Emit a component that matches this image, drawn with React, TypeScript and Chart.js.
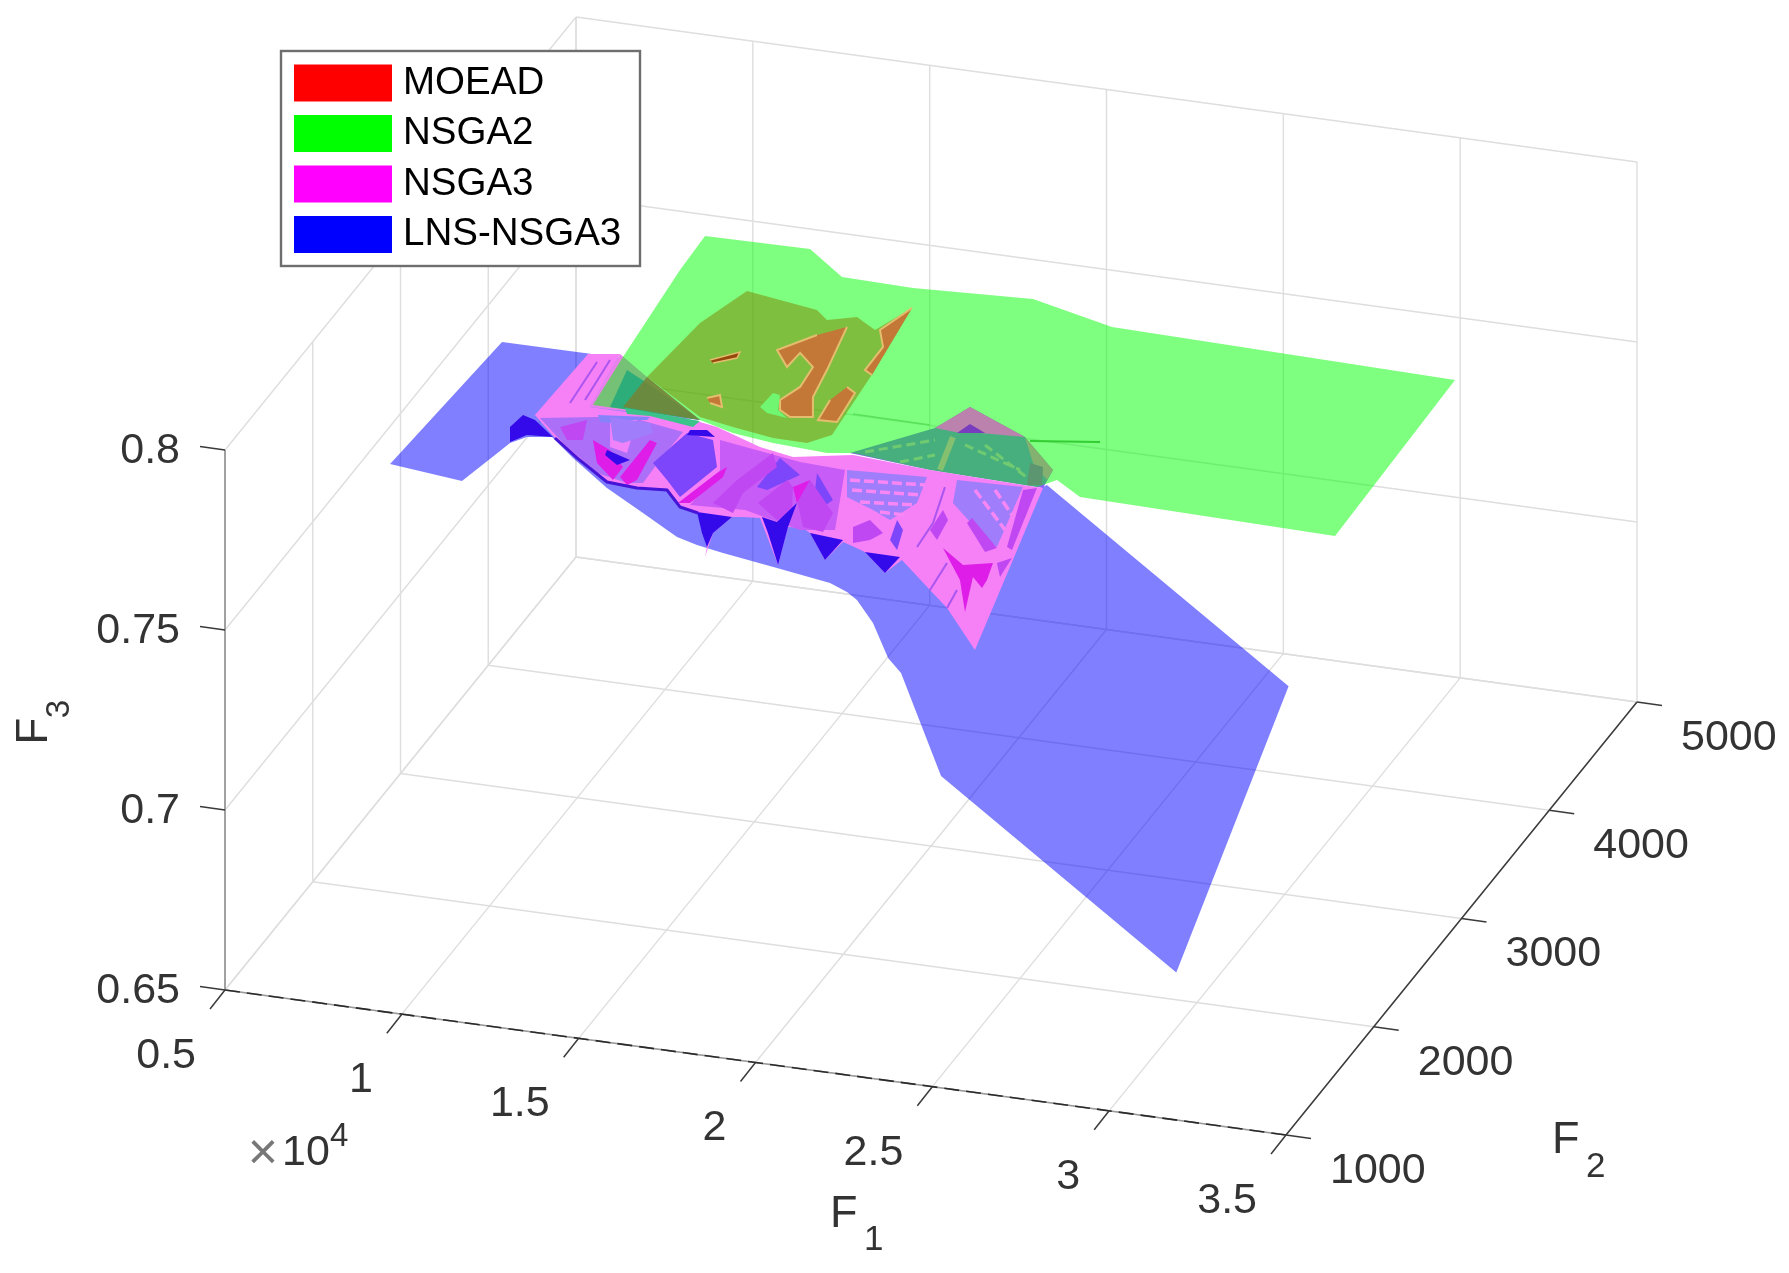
import React, { useEffect, useRef } from "react";
import { Chart, registerables } from "chart.js";

Chart.register(...registerables);

// ---- axes -----------------------------------------------------------------
const f1Ticks = [5000, 10000, 15000, 20000, 25000, 30000, 35000];
const f1Labels = ["0.5", "1", "1.5", "2", "2.5", "3", "3.5"];
const f2Ticks = [1000, 2000, 3000, 4000, 5000];
const f2Labels = ["1000", "2000", "3000", "4000", "5000"];
const f3Ticks = [0.65, 0.7, 0.75, 0.8];
const f3Labels = ["0.65", "0.7", "0.75", "0.8"];
const seriesNames = ["MOEAD", "NSGA2", "NSGA3", "LNS-NSGA3"];

// ---- NSGA2 surface, read at F3 = 0.8 ---------------------------------------
const nsga2Level = 0.8;
const nsga2F1 = [12802, 15744, 17136, 19170, 22452, 25041, 34866, 35030, 27734, 26798, 26432, 23359, 21048, 20386, 18805, 17580, 16472, 13438, 13212, 12868];
const nsga2F2 = [3326, 3337, 3140, 3129, 3174, 3031, 2980, 1547, 1581, 1697, 1615, 1635, 1689, 1659, 1681, 1718, 1789, 1792, 2225, 3014];

// ---- MOEAD surface, read at F3 = 0.8 ---------------------------------------
const moeadLevel = 0.8;
const moeadF1 = [15007, 17180, 17642, 18344, 19070, 19558, 19906, 20141, 19671, 18701, 17456, 16410, 14236, 14470];
const moeadF2 = [2915, 2837, 2765, 2824, 2737, 2962, 2377, 1815, 1719, 1723, 1768, 1814, 2087, 2596];
const moeadAbove: number[][][] = [
  [[18295, 2730], [18558, 2464], [18673, 2349], [18874, 2109], [19287, 1942], [18701, 1916], [18303, 1964], [18096, 2047], [18337, 2178], [18255, 2358], [17636, 2461], [17593, 2329], [16988, 2459], [17696, 2629]],
  [[19558, 2962], [19197, 2742], [19624, 2605], [19640, 2392], [19921, 2359]],
  [[19533, 2231], [19861, 2190], [20000, 1929], [19476, 1923], [19368, 2104]],
  [[16196, 1980], [16465, 2020], [16764, 1923], [16376, 1942]],
];
const moeadCore: number[][] = [[15489, 2299], [16087, 2400], [16135, 2347], [15627, 2279]];
const moeadHole: number[][] = [[17731, 1966], [17773, 2097], [17993, 2088], [18252, 1962], [18646, 1905], [18034, 1924]];

// ---- LNS-NSGA3 surface ------------------------------------------------------
const lnsF1 = [9489, 9823, 13208, 13707, 15688, 16734, 18221, 20491, 23167, 23523, 23675, 31600, 31600, 24753, 23467, 23198, 22836, 22326, 22277, 21659, 20000, 18317, 17490, 16816, 15826, 14765, 14023, 13056, 12419, 12111, 11976, 11673];
const lnsF2 = [1072, 2213, 2216, 2904, 2789, 2744, 2828, 2791, 2772, 2788, 2840, 2400, 1120, 1199, 1261, 1222, 1196, 1219, 1125, 1181, 1244, 1308, 1345, 1389, 1400, 1417, 1329, 1480, 1451, 1382, 1265, 1011];
const lnsF3 = [0.8, 0.8, 0.8, 0.76, 0.76, 0.76, 0.76, 0.76, 0.76, 0.76, 0.76, 0.728, 0.687, 0.73, 0.755, 0.76, 0.77, 0.775, 0.78, 0.78, 0.78, 0.78, 0.78, 0.78, 0.785, 0.79, 0.8, 0.8, 0.8, 0.8, 0.8, 0.8];

// ---- NSGA3 surface, read at F3 = 0.77 ---------------------------------------
const nsga3Level = 0.77;
const nsga3F1 = [9940, 10031, 10846, 11175, 14285, 14821, 16328, 17374, 18861, 21130, 23807, 24378, 25168, 25989, 24411, 23606, 22274, 22110, 21167, 20641, 20401, 20314, 19375, 19094, 18691, 19221, 17793, 17340, 17060, 16906, 17197, 17042, 16111, 15530, 14848, 14043, 13156, 11897, 10924];
const nsga3F2 = [2541, 3110, 3146, 2671, 2671, 2648, 2531, 2486, 2571, 2533, 2514, 2512, 1817, 1087, 1405, 1535, 1752, 1625, 1777, 1818, 1835, 1665, 1873, 1906, 1898, 1571, 1941, 1930, 1917, 1763, 1554, 1639, 1912, 1941, 2068, 2050, 2066, 2232, 2373];
const nsga3WedgeLeft: number[][] = [[10846, 3146], [12007, 2985], [14244, 2688], [11175, 2671]];
const nsga3WedgeLeftDeep: number[][] = [[11354, 3020], [11684, 2694], [14244, 2688], [12248, 2922]];
const nsga3WedgeRight: number[][] = [[18742, 2583], [20391, 2888], [20848, 3103], [22867, 2915], [24261, 2673], [24378, 2512], [21130, 2533]];
const nsga3WedgeStripes: number[][][] = [
  [[19104, 2609], [20638, 2788]],
  [[20201, 2565], [20948, 2664]],
  [[21505, 2781], [23421, 2636]],
  [[22014, 2804], [23882, 2564]],
];
const overlapWedge: number[][] = [[12007, 2985], [14244, 2688], [12015, 2708]];
const overlapBand: number[][] = [[12087, 2702], [14264, 2679], [14210, 2621], [12888, 2664], [12262, 2655]];
const nsga3RimLeft: number[][] = [[11544, 2613], [12909, 2656], [12895, 2628], [12284, 2600], [12014, 2561], [11740, 2557]];
const nsga3BaseLeft: number[][] = [[10129, 2522], [11560, 2596], [12717, 2620], [14058, 2569], [14051, 2309], [14092, 2099], [13685, 2081], [12715, 2130], [11231, 2340]];
const nsga3BaseMid: number[][] = [[15165, 2544], [17656, 2452], [18966, 2437], [19950, 1926], [19059, 1887], [17247, 1990], [15743, 1970], [15784, 2295]];
const nsga3Pale: number[][] = [[11953, 2586], [12640, 2616], [13066, 2330], [12510, 2361]];
const nsga3Ridge: number[][] = [[20391, 2888], [20848, 3103], [22867, 2915], [21640, 2898], [21130, 2875]];
const nsga3RidgeCore: number[][] = [[21054, 2872], [21199, 2961], [21767, 2904]];
const nsga3RidgeSide: number[][] = [[22867, 2915], [24261, 2673], [24315, 2583], [23608, 2708]];
const nsga3RidgeBlock: number[][] = [[23531, 2705], [23944, 2687], [24291, 2536], [23909, 2519]];
const nsga3RidgeSeam: number[][] = [[21034, 2833], [21384, 2545]];
const nsga3Light: number[][][] = [
  [[11891, 2611], [13032, 2606], [13316, 2526], [12758, 2408], [12442, 2422]],
  [[19017, 2439], [21198, 2472], [21480, 2244], [21144, 2072], [20505, 2136], [19574, 2214]],
  [[22024, 2481], [23848, 2497], [24424, 1968], [23703, 2066], [22396, 2284]],
];
const nsga3Violet: number[][][] = [
  [[13935, 2276], [14181, 2565], [14987, 2536], [15646, 2316], [15323, 2024], [14642, 2151]],
  [[17077, 2195], [17065, 2463], [17924, 2344], [17394, 2182]],
  [[18315, 2380], [19280, 2173], [19170, 2104], [18615, 2237]],
  [[21557, 1906], [21322, 2080], [21680, 2004], [21941, 1831]],
];
const nsga3Purple: number[][][] = [
  [[16287, 2012], [16424, 2231], [16782, 2496], [17173, 2384], [16845, 2130], [17002, 1951]],
  [[17433, 2063], [17697, 2288], [17993, 2236], [18504, 2018], [18267, 1943]],
  [[18363, 2132], [18282, 2314], [19548, 2065], [19686, 1896], [19073, 1915]],
  [[10824, 2470], [11368, 2559], [11678, 2388], [11271, 2370]],
  [[20346, 1972], [20634, 2049], [21233, 1956], [21047, 1883], [20676, 1839]],
  [[22287, 2215], [22368, 2034], [22753, 1959], [22620, 2138]],
  [[23910, 2473], [24225, 2505], [24868, 1961], [24679, 1980]],
  [[23190, 2182], [24445, 1960], [24222, 1914], [23166, 2134]],
  [[24754, 1835], [25033, 1894], [25120, 1723]],
];
const nsga3Vivid: number[][][] = [
  [[15396, 1972], [15770, 2266], [15900, 2328], [16006, 2240], [15702, 1986]],
  [[17993, 2236], [18282, 2314], [18425, 2107]],
  [[13384, 2123], [13383, 2464], [13624, 2447], [13878, 2117], [13727, 2064]],
  [[11932, 2399], [12572, 2336], [13253, 2209], [13268, 2090], [12509, 2213]],
  [[23071, 1899], [23930, 1781], [24652, 1831], [24851, 1683], [24888, 1611], [24432, 1692], [24951, 1392], [24163, 1652]],
];
const nsga3Dark: number[][][] = [
  [[16066, 1919], [17060, 1917], [16906, 1763], [17042, 1639], [16626, 1750]],
  [[17823, 1951], [18308, 1926], [18425, 2107], [18691, 1898], [19221, 1571], [18306, 1825]],
  [[19375, 1873], [20360, 1852], [20314, 1665]],
  [[21167, 1777], [22161, 1775], [22110, 1625]],
  [[12496, 2332], [13287, 2275], [13059, 2219], [12548, 2289]],
  [[9552, 2413], [9635, 2528], [10044, 2500], [10852, 2379], [10149, 2366], [9861, 2289]],
  [[14196, 2594], [14628, 2613], [14976, 2563], [14222, 2548]],
];
const nsga3Seams: number[][][] = [
  [[21863, 2408], [22300, 2096], [22388, 1878]],
  [[23606, 1535], [23482, 1779]],
  [[24411, 1405], [24293, 1566]],
  [[10584, 2681], [10425, 3053]],
  [[10904, 2723], [10714, 3085]],
];
const nsga3Edge: number[][] = [[10924, 2373], [11897, 2232], [13156, 2066], [14043, 2050], [14848, 2068], [15530, 1941], [16111, 1912]];
const nsga3Stripes: number[][][] = [
  [[19300, 2359], [21313, 2403]],
  [[19557, 2279], [21391, 2314]],
  [[20008, 2188], [21470, 2225]],
  [[20724, 2127], [21422, 2131]],
  [[22688, 2418], [24277, 2120]],
  [[23197, 2441], [24146, 2252]],
];
const crossing: number[][][] = [
  [[20243, 2013], [22430, 2009]],
  [[25305, 1990], [27108, 2062]],
];

// ---- view of the 3-D box ----------------------------------------------------
const WIDTH = 1789;
const HEIGHT = 1273;
const project = (f1: number, f2: number, f3: number) => {
  const a = (f1 - 5000) / 30000;
  const b = (f2 - 1000) / 4000;
  const c = (f3 - 0.65) / 0.15;
  return { x: 225 + a * 1061 + b * 351, y: 990 + a * 145 - b * 433 - c * 540 };
};

const RED = "rgb(255,0,0)";
const GREEN = "rgb(0,255,0)";
const MAGENTA = "rgb(255,0,255)";
const BLUE = "rgb(0,0,255)";
const FONT = "Liberation Sans";
const TEXT = "#333333";

const shape = (pts: { x: number; y: number }[], fill: string, edge?: string, edgeWidth = 0) => ({
  data: pts,
  showLine: true,
  fill: "shape",
  backgroundColor: fill,
  borderColor: edge ?? fill,
  borderWidth: edgeWidth,
  pointRadius: 0,
  tension: 0,
});
const stroke = (pts: { x: number; y: number }[], color: string, width: number, dash: number[] = []) => ({
  data: pts,
  showLine: true,
  fill: false,
  borderColor: color,
  backgroundColor: color,
  borderWidth: width,
  borderDash: dash,
  pointRadius: 0,
  tension: 0,
});
const at = (level: number, pairs: number[][]) => pairs.map(([a, b]) => project(a, b, level));
const zip = (a: number[], b: number[], level: number) => a.map((v, i) => project(v, b[i], level));

const buildDatasets = () => {
  const lv = nsga3Level;
  const mv = moeadLevel;
  const list: any[] = [
    shape(zip(moeadF1, moeadF2, mv), "rgba(255,0,0,0.5)"),
    shape(lnsF1.map((v, i) => project(v, lnsF2[i], lnsF3[i])), "rgba(0,0,255,0.5)"),
    shape(at(lv, nsga3WedgeLeft), "rgb(235,130,235)"),
    shape(at(lv, nsga3WedgeLeftDeep), "rgb(90,90,245)"),
    shape(at(lv, nsga3WedgeRight), "rgb(140,95,250)"),
    ...nsga3WedgeStripes.map((s) => stroke(at(lv, s), "rgb(225,150,225)", 3, [9, 5])),
    shape(zip(nsga2F1, nsga2F2, nsga2Level), "rgba(0,255,0,0.5)"),
    shape(at(lv, overlapWedge), "rgba(118,130,50,0.82)"),
    shape(zip(nsga3F1, nsga3F2, lv), "rgb(246,128,246)"),
    shape(at(lv, nsga3BaseLeft), "rgb(172,112,248)"),
    shape(at(lv, nsga3BaseMid), "rgb(200,92,246)"),
    shape(at(lv, nsga3Pale), "rgb(240,130,250)"),
    shape(at(lv, nsga3RimLeft), "rgb(135,130,250)"),
    shape(at(lv, overlapBand), "rgb(60,195,140)"),
    ...nsga3Light.map((p) => shape(at(lv, p), "rgb(160,125,250)")),
    ...nsga3Stripes.map((s) => stroke(at(lv, s), "rgb(248,135,245)", 3.5, [10, 4])),
    ...nsga3Violet.map((p) => shape(at(lv, p), "rgb(125,70,250)")),
    ...nsga3Purple.map((p) => shape(at(lv, p), "rgb(192,72,242)")),
    ...nsga3Vivid.map((p) => shape(at(lv, p), "rgb(222,30,232)")),
    ...nsga3Dark.map((p) => shape(at(lv, p), "rgb(52,10,235)")),
    ...nsga3Seams.map((s) => stroke(at(lv, s), "rgb(170,85,240)", 2)),
    stroke(at(lv, nsga3Edge), "rgb(70,20,215)", 3),
    ...moeadAbove.map((p) => shape(at(mv, p), "rgb(196,120,55)", "rgb(226,190,110)", 2)),
    shape(at(mv, moeadCore), "rgb(150,72,12)", "rgb(226,190,110)", 1.5),
    shape(at(mv, moeadHole), "rgb(112,246,112)"),
    shape(at(lv, nsga3Ridge), "rgb(186,130,172)"),
    shape(at(lv, nsga3RidgeCore), "rgb(120,60,190)"),
    shape(at(lv, nsga3RidgeSide), "rgb(132,176,112)"),
    shape(at(lv, nsga3RidgeBlock), "rgb(92,150,112)"),
    stroke(at(lv, nsga3RidgeSeam), "rgb(132,192,112)", 6),
    stroke(at(nsga2Level, crossing[0]), "rgb(90,225,90)", 1.5),
    stroke(at(nsga2Level, crossing[1]), "rgb(50,205,50)", 2),
  ];
  return list.map((d, i) => ({ ...d, order: -i }));
};

const axesPlugin = {
  id: "axes3d",
  beforeDraw(chart: any) {
    const { ctx, scales } = chart;
    const px = (p: { x: number; y: number }) => ({
      x: scales.x.getPixelForValue(p.x),
      y: scales.y.getPixelForValue(p.y),
    });
    const seg = (a: number[], b: number[], color: string, width: number, dash: number[] = []) => {
      const p = px(project(a[0], a[1], a[2]));
      const q = px(project(b[0], b[1], b[2]));
      ctx.save();
      ctx.strokeStyle = color;
      ctx.lineWidth = width;
      ctx.setLineDash(dash);
      ctx.beginPath();
      ctx.moveTo(p.x, p.y);
      ctx.lineTo(q.x, q.y);
      ctx.stroke();
      ctx.restore();
    };
    const GRID = "#dedede";
    const f3Low = f3Ticks[0];
    const f3High = f3Ticks[f3Ticks.length - 1];
    const f1Low = f1Ticks[0];
    const f1High = f1Ticks[f1Ticks.length - 1];
    const f2Low = f2Ticks[0];
    const f2High = f2Ticks[f2Ticks.length - 1];

    f1Ticks.forEach((v) => {
      seg([v, f2Low, f3Low], [v, f2High, f3Low], GRID, 1.4);
      seg([v, f2High, f3Low], [v, f2High, f3High], GRID, 1.4);
    });
    f2Ticks.forEach((v) => {
      seg([f1Low, v, f3Low], [f1High, v, f3Low], GRID, 1.4);
      seg([f1Low, v, f3Low], [f1Low, v, f3High], GRID, 1.4);
    });
    f3Ticks.forEach((v) => {
      seg([f1Low, f2Low, v], [f1Low, f2High, v], GRID, 1.4);
      seg([f1Low, f2High, v], [f1High, f2High, v], GRID, 1.4);
    });

    // axis rulers
    seg([f1Low, f2Low, f3Low], [f1Low, f2Low, f3High], "#8a8a8a", 1.5);
    seg([f1Low, f2Low, f3Low], [f1High, f2Low, f3Low], "#9a9a9a", 1.5);
    seg([f1Low, f2Low, f3Low], [f1High, f2Low, f3Low], "#2a2a2a", 1.6, [15, 7]);
    seg([f1High, f2Low, f3Low], [f1High, f2High, f3Low], "#3a3a3a", 1.5);

    const mark = (p0: { x: number; y: number }, dx: number, dy: number) => {
      const p = px(p0);
      ctx.save();
      ctx.strokeStyle = "#3a3a3a";
      ctx.lineWidth = 1.5;
      ctx.beginPath();
      ctx.moveTo(p.x, p.y);
      ctx.lineTo(p.x + dx, p.y + dy);
      ctx.stroke();
      ctx.restore();
      return p;
    };
    const label = (text: string, x: number, y: number, align: CanvasTextAlign, size = 43) => {
      ctx.save();
      ctx.fillStyle = TEXT;
      ctx.font = `${size}px "${FONT}"`;
      ctx.textAlign = align;
      ctx.textBaseline = "middle";
      ctx.fillText(text, x, y);
      ctx.restore();
    };

    f1Ticks.forEach((v, i) => {
      const p = mark(project(v, f2Low, f3Low), -15, 19);
      label(f1Labels[i], p.x - 29, p.y + 66, "right");
    });
    f2Ticks.forEach((v, i) => {
      const p = mark(project(f1High, v, f3Low), 25, 3.4);
      label(f2Labels[i], p.x + 44, p.y + 36, "left");
    });
    f3Ticks.forEach((v, i) => {
      const p = mark(project(f1Low, f2Low, v), -25, -3.4);
      label(f3Labels[i], p.x - 45, p.y + 1, "right");
    });

    // exponent and axis titles
    ctx.save();
    ctx.fillStyle = "#777777";
    ctx.font = `52px "${FONT}"`;
    ctx.textAlign = "center";
    ctx.textBaseline = "middle";
    ctx.fillText("×", 263, 1155);
    ctx.restore();
    label("10", 282, 1153, "left");
    label("4", 330, 1137, "left", 33);
    label("F", 830, 1215, "left", 45);
    label("1", 864, 1240, "left", 35);
    label("F", 1552, 1141, "left", 45);
    label("2", 1586, 1167, "left", 35);
    ctx.save();
    ctx.translate(35, 731);
    ctx.rotate(-Math.PI / 2);
    label("F", 0, 0, "center", 44);
    label("3", 22, 25, "center", 33);
    ctx.restore();

    // legend frame
    ctx.save();
    ctx.fillStyle = "#ffffff";
    ctx.strokeStyle = "#6e6e6e";
    ctx.lineWidth = 2.4;
    ctx.fillRect(281, 51, 359, 215);
    ctx.strokeRect(281, 51, 359, 215);
    ctx.restore();
  },
  afterLayout(chart: any) {
    const lg = chart.legend;
    if (!lg) return;
    lg.left = 290.25;
    lg.top = 51.75;
    lg.right = 640;
    lg.bottom = 268;
  },
};

export default function App() {
  const ref = useRef<HTMLCanvasElement | null>(null);
  useEffect(() => {
    if (!ref.current) return;
    const swatches = [RED, GREEN, MAGENTA, BLUE];
    const chart = new Chart(ref.current, {
      type: "scatter",
      data: { datasets: buildDatasets() as any },
      plugins: [axesPlugin as any],
      options: {
        responsive: false,
        animation: false,
        layout: { padding: 0 },
        scales: {
          x: { type: "linear", display: false, min: 0, max: WIDTH },
          y: { type: "linear", display: false, min: 0, max: HEIGHT, reverse: true },
        },
        plugins: {
          tooltip: { enabled: false },
          title: { display: false },
          legend: {
            display: true,
            position: "chartArea",
            align: "start",
            onClick: () => {},
            labels: {
              boxWidth: 81.5,
              boxHeight: 20.5,
              padding: 12,
              color: "#2a2a2a",
              font: { family: FONT, size: 38.5 },
              generateLabels: () =>
                seriesNames.map((name, i) => ({
                  text: name,
                  fillStyle: swatches[i],
                  strokeStyle: swatches[i],
                  lineWidth: 16.5,
                  hidden: false,
                  datasetIndex: i,
                })),
            },
          },
        },
      } as any,
    });
    return () => chart.destroy();
  }, []);
  return (
    <canvas
      ref={ref}
      width={WIDTH}
      height={HEIGHT}
      style={{ position: "absolute", left: 0, top: 0, display: "block" }}
    />
  );
}
